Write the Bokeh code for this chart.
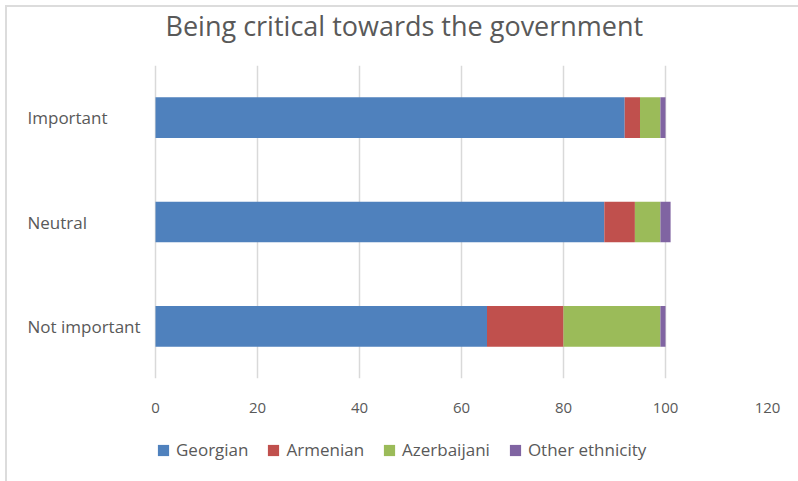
from bokeh.plotting import figure
from bokeh.layouts import column
from bokeh.models import ColumnDataSource, FactorRange, Range1d, Legend, LegendItem, FixedTicker, Label
from bokeh.embed import file_html
from bokeh.resources import INLINE

categories = ["Not important", "Neutral", "Important"]
series = ["Georgian", "Armenian", "Azerbaijani", "Other ethnicity"]
georgian = [65, 88, 92]
armenian = [15, 6, 3]
azerbaijani = [19, 5, 4]
other = [1, 2, 1]
x_ticks = [0, 20, 40, 60, 80, 100, 120]
colors = ["#4f81bd", "#c0504d", "#9bbb59", "#8064a2"]
title_text = "Being critical towards the government"

src = ColumnDataSource(dict(cat=categories, Georgian=georgian, Armenian=armenian,
                            Azerbaijani=azerbaijani, **{"Other ethnicity": other}))

FONT = "Open Sans"
GRAY = "#595959"

# title strip
tf = figure(width=791, height=58, x_range=Range1d(0, 1), y_range=Range1d(0, 1),
            output_backend="svg", toolbar_location=None,
            min_border_left=0, min_border_right=31, min_border_top=0, min_border_bottom=0)
tf.axis.visible = False
tf.grid.visible = False
tf.outline_line_color = None
tf.title.visible = False
tf.add_layout(Label(x=158, y=0.69, x_units="screen", y_units="data", text=title_text,
                    text_font=FONT, text_font_size="27px", text_color=GRAY,
                    text_align="left", text_baseline="middle"))

# main chart: frame starts at the left edge; the negative part of the x range holds the category labels
p = figure(width=791, height=350, y_range=FactorRange(*categories), x_range=Range1d(-29.02, 120),
           output_backend="svg", toolbar_location=None,
           min_border_left=0, min_border_right=31, min_border_top=0, min_border_bottom=37)
p.title.visible = False

p.hbar_stack(series, y="cat", height=0.39, color=colors, source=src, line_color=None)

p.outline_line_color = None
p.ygrid.grid_line_color = None
p.xgrid.grid_line_color = "#d9d9d9"
p.xgrid.grid_line_width = 1.5
p.xaxis.ticker = FixedTicker(ticks=x_ticks)
p.yaxis.visible = False

ax = p.xaxis
ax.axis_line_color = None
ax.major_tick_line_color = None
ax.minor_tick_line_color = None
ax.major_label_text_font = FONT
ax.major_label_text_font_size = "15px"
ax.major_label_text_color = GRAY
ax.major_label_standoff = 18

for i, c in enumerate(categories):
    p.add_layout(Label(x=20, y=i + 0.5, x_units="screen", y_units="data", text=c,
                       text_font=FONT, text_font_size="17px", text_color=GRAY,
                       text_align="left", text_baseline="middle"))

# legend in its own strip below the chart; its swatches come from zero-height bars
lf = figure(width=791, height=66, x_range=Range1d(0, 120), y_range=FactorRange(*categories),
            output_backend="svg", toolbar_location=None,
            min_border_left=0, min_border_right=31, min_border_top=0, min_border_bottom=0)
lf.axis.visible = False
lf.grid.visible = False
lf.outline_line_color = None
lf.title.visible = False
lrs = lf.hbar_stack(series, y="cat", height=0, color=colors, source=src, line_color=None)
legend = Legend(items=[LegendItem(label=s, renderers=[r]) for s, r in zip(series, lrs)],
                orientation="horizontal", location=(149, 20),
                glyph_width=14, glyph_height=14, spacing=18, label_standoff=6,
                label_text_font=FONT, label_text_font_size="17px", label_text_color=GRAY,
                border_line_color=None, background_fill_alpha=0, margin=0, padding=5)
lf.add_layout(legend, "center")

layout = column(tf, p, lf, spacing=0,
                styles={"margin-left": "5px", "margin-top": "5px",
                        "border-left": "2px solid #dcdcdc", "border-top": "2px solid #dcdcdc"})

open("out.html", "w").write(file_html(layout, INLINE))
